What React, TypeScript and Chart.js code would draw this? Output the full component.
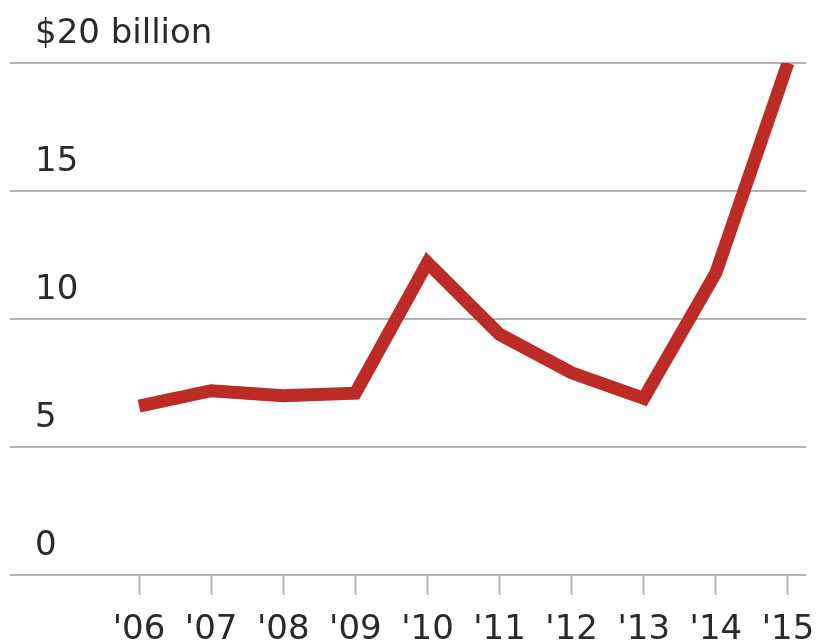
import React, { useEffect, useRef } from "react";
import { Chart, registerables } from "chart.js";

Chart.register(...registerables);

const years = [2006, 2007, 2008, 2009, 2010, 2011, 2012, 2013, 2014, 2015];
const yearLabels = ["'06", "'07", "'08", "'09", "'10", "'11", "'12", "'13", "'14", "'15"];
const values = [6.6, 7.2, 7.0, 7.1, 12.2, 9.4, 7.9, 6.9, 11.8, 20.0];
const yTicks = [0, 5, 10, 15, 20];
const yTickLabels = ["0", "5", "10", "15", "$20 billion"];

export default function App() {
  const ref = useRef<HTMLCanvasElement>(null);
  useEffect(() => {
    const canvas = ref.current;
    if (!canvas) return;
    const font = "'DejaVu Sans', sans-serif";
    const chart = new Chart(canvas, {
      type: "line",
      data: {
        datasets: [
          {
            data: years.map((y, i) => ({ x: y, y: values[i] })),
            borderColor: "#bd2b26",
            borderWidth: 13,
            borderJoinStyle: "miter",
            borderCapStyle: "butt",
            pointRadius: 0,
            tension: 0,
            fill: false,
          },
        ],
      },
      options: {
        animation: false,
        responsive: false,
        maintainAspectRatio: false,
        layout: { padding: { left: 10, right: 12, top: 63, bottom: 0 } },
        plugins: { legend: { display: false }, tooltip: { enabled: false } },
        scales: {
          x: {
            type: "linear",
            min: 2004.21,
            max: 2015.25,
            afterBuildTicks: (scale: any) => {
              scale.ticks = years.map((v) => ({ value: v }));
            },
            afterFit: (scale: any) => {
              scale.height = 66;
              scale.paddingLeft = 0;
              scale.paddingRight = 0;
            },
            border: { display: false },
            grid: {
              drawOnChartArea: false,
              drawTicks: true,
              tickLength: 20,
              tickColor: "#b8b8b8",
              tickWidth: 2,
            },
            ticks: {
              autoSkip: false,
              maxRotation: 0,
              padding: 18,
              color: "#2a2a2a",
              font: { family: font, size: 34, lineHeight: 1.0 },
              callback: (v: any) => {
                const i = years.indexOf(Number(v));
                return i >= 0 ? yearLabels[i] : "";
              },
            },
          },
          y: {
            min: 0,
            max: 20,
            afterBuildTicks: (scale: any) => {
              scale.ticks = yTicks.map((v) => ({ value: v }));
            },
            afterFit: (scale: any) => {
              scale.width = 0;
              scale.paddingTop = 0;
              scale.paddingBottom = 0;
            },
            border: { display: false },
            grid: {
              drawTicks: false,
              color: "#b4b4b4",
              lineWidth: 2,
            },
            ticks: {
              mirror: true,
              padding: 25,
              labelOffset: -29,
              color: "#2a2a2a",
              font: { family: font, size: 34, lineHeight: 1.0 },
              callback: (v: any) => {
                const i = yTicks.indexOf(Number(v));
                return i >= 0 ? yTickLabels[i] : "";
              },
            },
          },
        },
      },
    });
    return () => chart.destroy();
  }, []);
  return (
    <div style={{ position: "absolute", left: 0, top: 0, width: 818, height: 641, background: "#fff" }}>
      <canvas ref={ref} width={818} height={641} style={{ display: "block" }} />
    </div>
  );
}
